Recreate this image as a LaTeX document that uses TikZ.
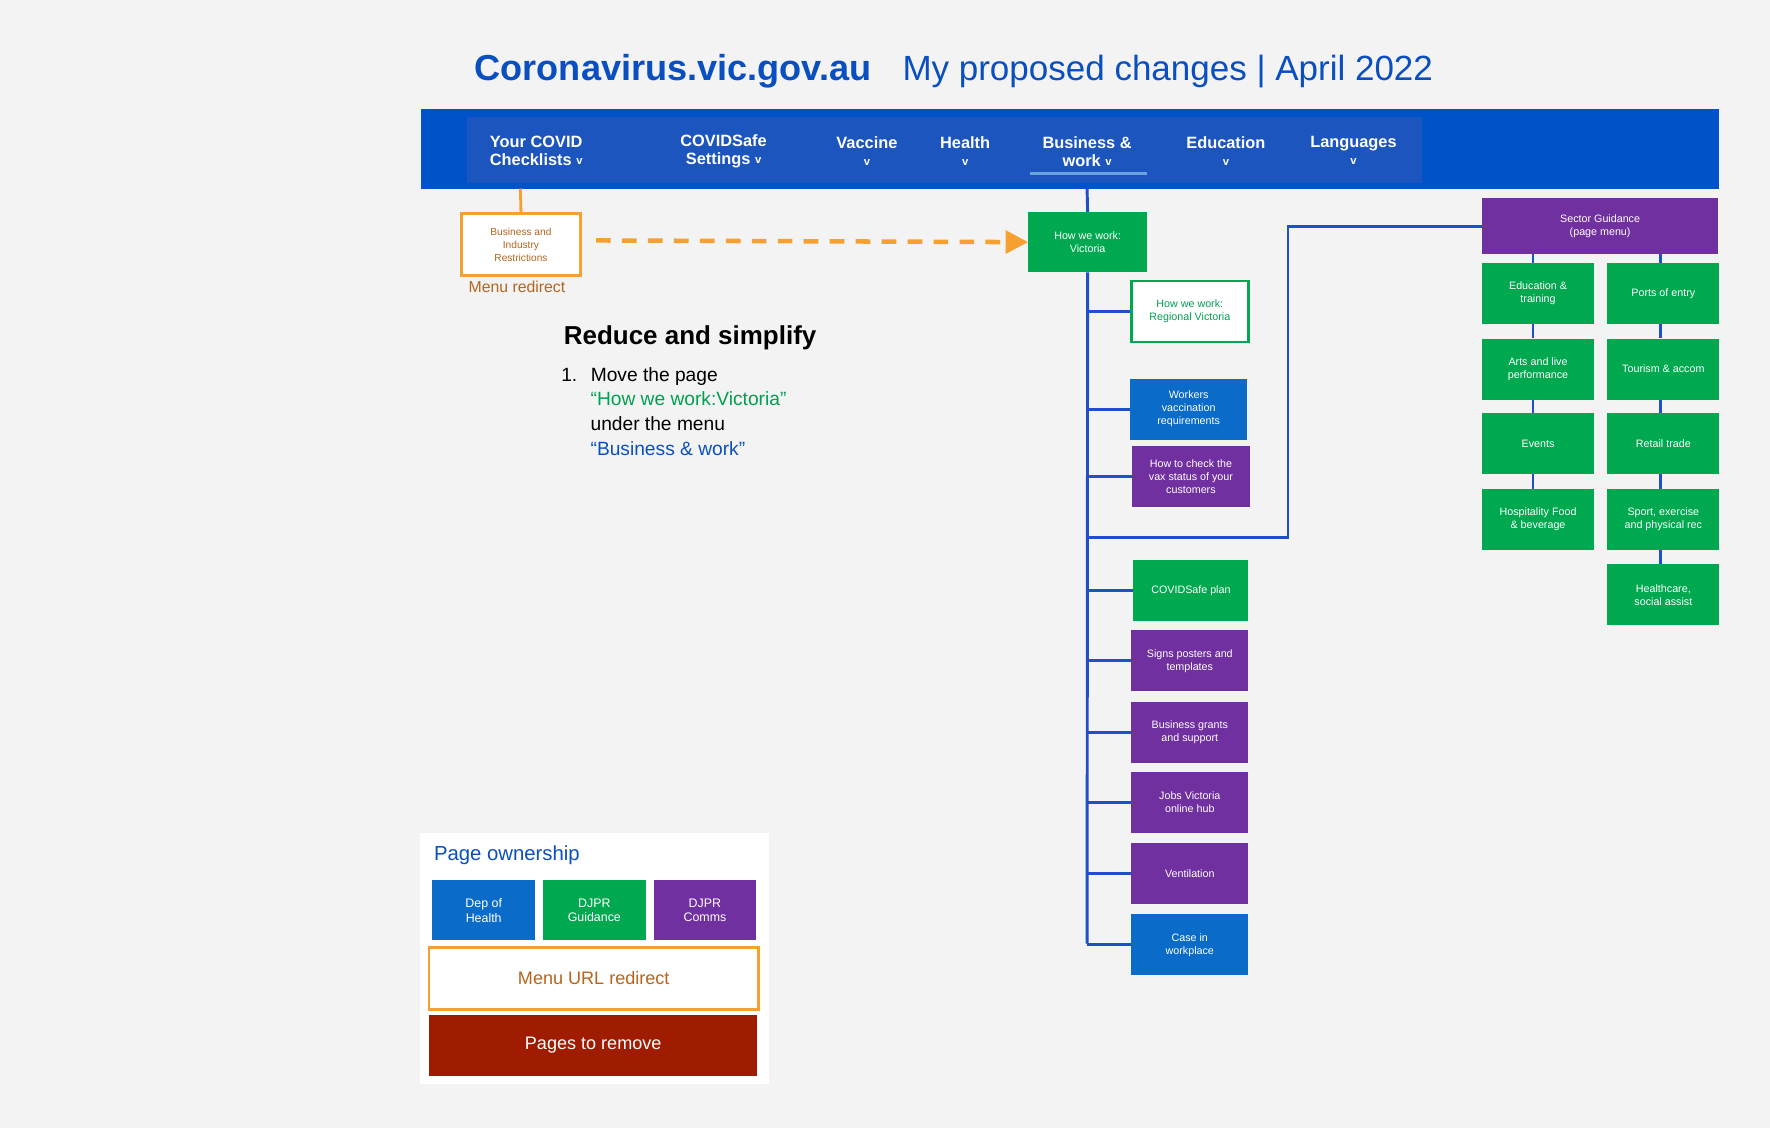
\documentclass[tikz,border=0pt]{standalone}
\usepackage{fontspec}
\setmainfont{Liberation Sans}
\usetikzlibrary{arrows.meta}
\definecolor{bg}{HTML}{F3F3F3}
\definecolor{navb}{HTML}{0052C8}
\definecolor{navi}{HTML}{1B55BD}
\definecolor{ttl}{HTML}{0A4FC0}
\definecolor{gr}{HTML}{00A84F}
\definecolor{bl}{HTML}{0A6CC8}
\definecolor{pu}{HTML}{7030A0}
\definecolor{og}{HTML}{F5A030}
\definecolor{br}{HTML}{B5651D}
\definecolor{rd}{HTML}{A01C00}
\definecolor{ln}{HTML}{1E50C8}
\definecolor{gtxt}{HTML}{00A050}
\newcommand{\chev}{{\fontsize{10}{10}\selectfont\raisebox{1pt}{v}}}
\begin{document}
\begin{tikzpicture}[x=1pt,y=-1pt,
  bx/.style={inner sep=1pt,align=center,text=white,font=\fontsize{9.5}{11.5}\selectfont,minimum width=104pt,minimum height=54pt},
  menu/.style={text=white,align=center,font=\bfseries\fontsize{14.5}{16}\selectfont},
  con/.style={draw=ln,line width=2.6pt}]
\fill[bg] (0,0) rectangle (1568,999);
\useasboundingbox (0,0) rectangle (1568,999);
% title
\node[anchor=west,text=ttl,font=\bfseries\fontsize{32}{36}\selectfont] (t1) at (417,63) {Coronavirus.vic.gov.au};
\node[anchor=west,text=ttl,font=\fontsize{31}{36}\selectfont] (t2) at (796,63) {My proposed changes | April 2022};
% nav bar
\fill[navb] (373,97) rectangle (1523,167);
\fill[navi] (414,104) rectangle (1260,162);
\node[menu] (m1) at (475,134) {Your COVID\\Checklists \chev};
\node[menu] (m2) at (641,134) {COVIDSafe\\Settings \chev};
\node[menu] (m3) at (768,134) {Vaccine\\\chev};
\node[menu] (m4) at (855,134) {Health\\\chev};
\node[menu] (m5) at (963,134) {Business \&\\work \chev};
\node[menu] (m6) at (1086,134) {Education\\\chev};
\node[menu] (m7) at (1199,134) {Languages\\\chev};
\draw[color=cyan!60!blue!60,line width=2.5pt] (912,154) -- (1016,154);
% redirect box
\coordinate (navL) at (461,167);
\node[draw=og,line width=2.5pt,fill=white,text=br,align=center,font=\fontsize{9}{11.5}\selectfont,minimum width=105pt,minimum height=55pt] (bir) at (461.5,216.5) {Business and\\Industry\\Restrictions};
\draw[og,line width=2.5pt] (navL) -- (bir.north);
\node[text=br,font=\fontsize{14}{16}\selectfont] (mr) at (458,254) {Menu redirect};
\node[bx,fill=gr,minimum width=105pt,minimum height=53pt] (hvic) at (963.5,214.5) {How we work:\\Victoria};
\draw[og,line width=4pt,dash pattern=on 13pt off 10pt,-{Triangle[length=20pt,width=20pt]}] (528,213) -- (hvic.west);
% trunk
\coordinate (navB) at (963,167);
\coordinate (trE) at (963,836);
\draw[con] (navB) -- (hvic.north);
\draw[con] (hvic.south) -- (trE);
% children
\node[bx,fill=white,draw=gr,line width=2.5pt,text=gtxt,minimum width=104pt,minimum height=54pt] (reg) at (1054,276) {How we work:\\Regional Victoria};
\node[bx,fill=bl] (wvr) at (1053,362.5) {Workers\\vaccination\\requirements};
\node[bx,fill=pu] (chk) at (1055,422) {How to check the\\vax status of your\\customers};
\node[bx,fill=gr,minimum width=102pt] (csp) at (1055,523.5) {COVIDSafe plan};
\node[bx,fill=pu] (sig) at (1054,585.5) {Signs posters and\\templates};
\node[bx,fill=pu] (bgs) at (1054,649) {Business grants\\and support};
\node[bx,fill=pu] (job) at (1054,711) {Jobs Victoria\\online hub};
\node[bx,fill=pu] (ven) at (1054,774) {Ventilation};
\node[bx,fill=bl] (cas) at (1054,837) {Case in\\workplace};
\foreach \n in {reg,wvr,chk,csp,sig,bgs,job,ven,cas}{
  \draw[con] (963,0 |- \n.west) -- (\n.west);
}
% sector
\node[bx,fill=pu,minimum width=209pt,minimum height=50pt] (sec) at (1417.5,200) {Sector Guidance\\(page menu)};
\coordinate (j1) at (963,476);
\coordinate (j2) at (1141,476);
\coordinate (j3) at (1141,201);
\draw[con] (j1) -- (j2) -- (j3) -- (sec.west |- j3);
\node[bx,fill=gr,minimum width=99pt] (s1) at (1362.5,260) {Education \&\\training};
\node[bx,fill=gr,minimum width=99pt] (s2) at (1362.5,327) {Arts and live\\performance};
\node[bx,fill=gr,minimum width=99pt] (s3) at (1362.5,393) {Events};
\node[bx,fill=gr,minimum width=99pt] (s4) at (1362.5,460) {Hospitality Food\\\& beverage};
\node[bx,fill=gr,minimum width=99pt] (r1) at (1473.5,260) {Ports of entry};
\node[bx,fill=gr,minimum width=99pt] (r2) at (1473.5,327) {Tourism \& accom};
\node[bx,fill=gr,minimum width=99pt] (r3) at (1473.5,393) {Retail trade};
\node[bx,fill=gr,minimum width=99pt] (r4) at (1473.5,460) {Sport, exercise\\and physical rec};
\node[bx,fill=gr,minimum width=99pt] (r5) at (1473.5,527) {Healthcare,\\social assist};
\begin{scope}[con,line width=2.2pt]
\draw (1358,0 |- sec.south) -- (1358,0 |- s1.north);
\draw (1358,0 |- s1.south) -- (1358,0 |- s2.north);
\draw (1358,0 |- s2.south) -- (1358,0 |- s3.north);
\draw (1358,0 |- s3.south) -- (1358,0 |- s4.north);
\draw (1471,0 |- sec.south) -- (1471,0 |- r1.north);
\draw (1471,0 |- r1.south) -- (1471,0 |- r2.north);
\draw (1471,0 |- r2.south) -- (1471,0 |- r3.north);
\draw (1471,0 |- r3.south) -- (1471,0 |- r4.north);
\draw (1471,0 |- r4.south) -- (1471,0 |- r5.north);
\end{scope}
% text
\node[anchor=west,font=\bfseries\fontsize{23}{26}\selectfont] (rs) at (496,299) {Reduce and simplify};
\node[anchor=north west,align=left,font=\fontsize{17}{22}\selectfont,inner sep=0pt] (lst) at (497,325)
 {1.\hspace{12pt}Move the page\\
  \hspace{26pt}\textcolor{gtxt}{“How we work:Victoria”}\\
  \hspace{26pt}under the menu\\
  \hspace{26pt}\textcolor{ttl}{“Business \& work”}};
% legend
\fill[white] (372,738) rectangle (681,960);
\node[anchor=west,text=ttl,font=\fontsize{18}{20}\selectfont] (po) at (381,758) {Page ownership};
\node[bx,fill=bl,minimum width=91pt,minimum height=53pt,font=\fontsize{11}{13}\selectfont] (l1) at (428.5,806.5) {Dep of\\Health};
\node[bx,fill=gr,minimum width=91pt,minimum height=53pt,font=\fontsize{11}{13}\selectfont] (l2) at (526.5,806.5) {DJPR\\Guidance};
\node[bx,fill=pu,minimum width=91pt,minimum height=53pt,font=\fontsize{11}{13}\selectfont] (l3) at (624.5,806.5) {DJPR\\Comms};
\node[draw=og,line width=2.5pt,fill=white,text=br,minimum width=292pt,minimum height=55pt,font=\fontsize{16}{18}\selectfont] (l4) at (526,866.5) {Menu URL redirect};
\node[fill=rd,text=white,minimum width=291pt,minimum height=54pt,font=\fontsize{16}{18}\selectfont] (l5) at (525.5,926) {Pages to remove};
\end{tikzpicture}
\end{document}
